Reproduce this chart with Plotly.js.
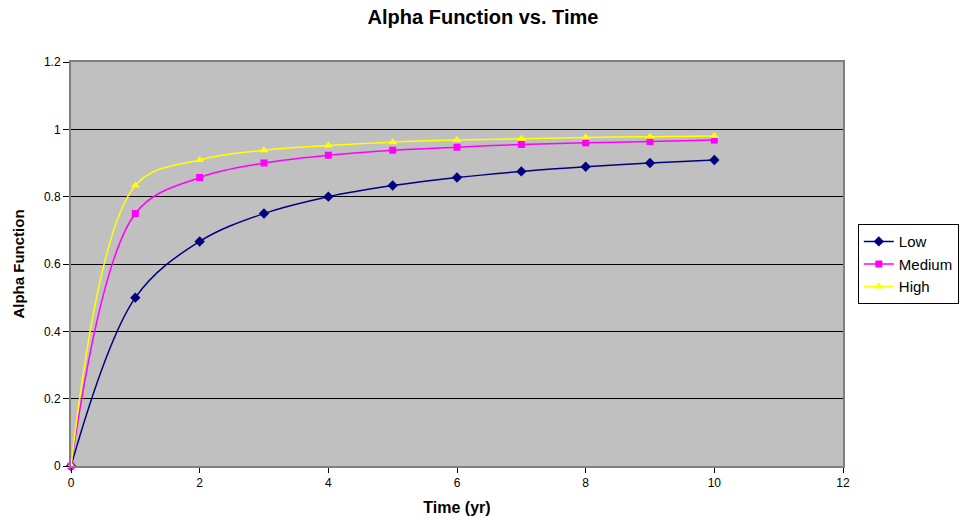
<!DOCTYPE html>
<html>
<head>
<meta charset="utf-8">
<script src="https://cdn.plot.ly/plotly-3.0.1.min.js"></script>
<style>html,body{margin:0;padding:0;background:#fff;}#chart{width:966px;height:520px;}</style>
</head>
<body>
<div id="chart"></div>
<script>
const time = [0, 1, 2, 3, 4, 5, 6, 7, 8, 9, 10];
const low = [0, 0.5, 0.667, 0.75, 0.8, 0.833, 0.857, 0.875, 0.889, 0.9, 0.909];
const medium = [0, 0.75, 0.857, 0.9, 0.923, 0.938, 0.947, 0.955, 0.96, 0.964, 0.968];
const high = [0, 0.833, 0.909, 0.938, 0.952, 0.962, 0.968, 0.972, 0.976, 0.978, 0.98];
const seriesNames = ['Low', 'Medium', 'High'];

function tr(y, name, color, symbol, size) {
  return {
    x: time, y: y, name: name, type: 'scatter', mode: 'lines+markers',
    line: {color: color, width: 1.5, shape: 'spline', smoothing: 1},
    marker: {color: color, symbol: symbol, size: size, line: {width: 0}},
    cliponaxis: false
  };
}
const data = [
  tr(low, seriesNames[0], '#000080', 'diamond', 8),
  tr(medium, seriesNames[1], '#FF00FF', 'square', 7),
  tr(high, seriesNames[2], '#FFFF00', 'triangle-up', 8)
];
const font = {family: 'Liberation Sans, Arial, sans-serif', color: '#000'};
const layout = {
  width: 966, height: 520,
  margin: {l: 71, r: 123, t: 62, b: 54},
  paper_bgcolor: '#fff', plot_bgcolor: '#C0C0C0',
  font: Object.assign({size: 12}, font),
  title: {text: '<b>Alpha Function vs. Time</b>', x: 0.5, xanchor: 'center', y: 0.967, yanchor: 'middle', font: Object.assign({size: 20}, font)},
  showlegend: true,
  legend: {xref: 'container', yref: 'container', x: 0.888, xanchor: 'left', y: 0.492, yanchor: 'middle', bordercolor: '#000', borderwidth: 1, bgcolor: '#fff', font: Object.assign({size: 15}, font), tracegroupgap: 0, itemwidth: 30},
  xaxis: {
    range: [0, 12], dtick: 2, tick0: 0, showgrid: false, zeroline: false,
    showline: true, linecolor: '#808080', linewidth: 2, mirror: true,
    ticks: 'outside', ticklen: 5, tickcolor: '#000', tickwidth: 1,
    tickfont: Object.assign({size: 12}, font),
    title: {text: '<b>Time (yr)</b>', font: Object.assign({size: 16}, font), standoff: 12}
  },
  yaxis: {
    range: [0, 1.2], dtick: 0.2, tick0: 0, showgrid: true, gridcolor: '#000', gridwidth: 1, zeroline: false,
    showline: true, linecolor: '#808080', linewidth: 2, mirror: true,
    ticks: 'outside', ticklen: 6, tickcolor: '#000', tickwidth: 1,
    tickfont: Object.assign({size: 12}, font),
    title: {text: '<b>Alpha Function</b>', font: Object.assign({size: 15}, font), standoff: 16}
  }
};
Plotly.newPlot('chart', data, layout, {displayModeBar: false, staticPlot: true});
</script>
</body>
</html>
